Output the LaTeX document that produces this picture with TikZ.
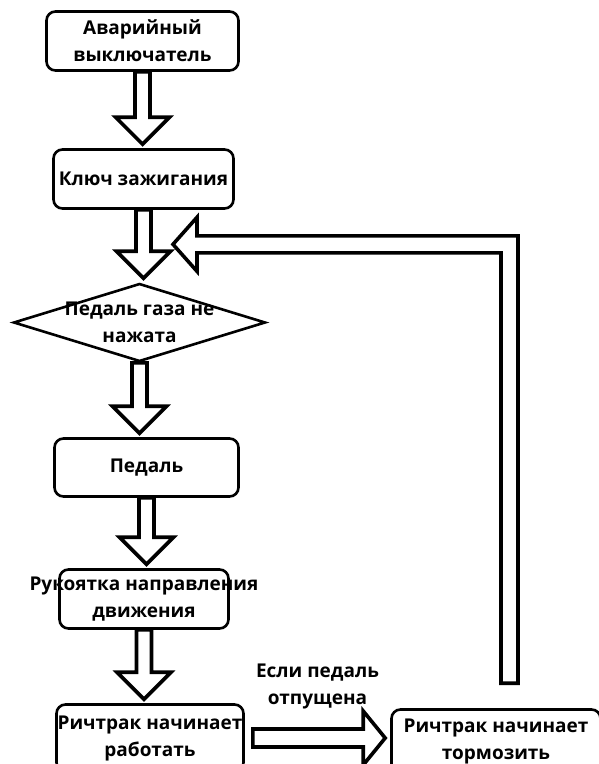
\documentclass[tikz,border=0pt]{standalone}
\usepackage{fontspec}
\setmainfont{Open Sans}
\usepackage{tikz}
\usetikzlibrary{calc}
\usetikzlibrary{shapes.geometric}

\tikzset{
  block/.style={draw, rounded corners=9pt, line width=2.6pt, inner sep=0pt},
  decision/.style={draw, diamond, line width=2.6pt, inner sep=0pt},
  txt/.style={font=\bfseries\fontsize{19}{27}\selectfont, align=center, inner sep=0pt},
  fat/.style={draw, fill=white, line width=3.6pt, line join=miter},
}

% hollow arrow pointing down from one node to the next
\newcommand{\fatdown}[2]{%
  \draw[fat] let \p1=(#1.south), \p2=(#1.south |- #2.north) in
    (\x1-7.5pt,\y1) -- (\x1-7.5pt,\y2+31pt) -- (\x1-27pt,\y2+31pt) -- (\x1,\y2+4pt)
    -- (\x1+27pt,\y2+31pt) -- (\x1+7.5pt,\y2+31pt) -- (\x1+7.5pt,\y1) -- cycle;}

\begin{document}
\begin{tikzpicture}[x=1pt,y=-1pt]
\useasboundingbox (0,0) rectangle (599,764);
\node[block, minimum width=192pt, minimum height=59pt,
  label={[txt]center:Аварийный\\выключатель}] (switch) at (142.5,41) {};
\node[block, minimum width=180pt, minimum height=59pt,
  label={[txt]center:Ключ зажигания}] (key) at (143.5,179) {};
\node[decision, minimum width=252pt, minimum height=78pt,
  label={[txt]center:Педаль газа не\\нажата}] (gas) at (139.5,322.5) {};
\node[block, minimum width=184pt, minimum height=58pt,
  label={[txt]center:Педаль}] (pedal) at (146.5,467.5) {};
\node[block, minimum width=169pt, minimum height=59pt,
  label={[txt]center:Рукоятка направления\\движения}] (handle) at (144,599) {};
\node[block, minimum width=187pt, minimum height=67pt,
  label={[txt]center:Ричтрак начинает\\работать}] (work) at (150,738) {};
\node[block, minimum width=209pt, minimum height=63pt,
  label={[txt]center:Ричтрак начинает\\тормозить}] (brake) at (496,741) {};
\coordinate (merge) at ($(key.south)+(29.5,34.5)$);
\node[txt] (cond) at ($(work.east)!0.5!(brake.west)+(0,-53)$) {Если педаль\\отпущена};

\fatdown{switch}{key}
\fatdown{key}{gas}
\fatdown{gas}{pedal}
\fatdown{pedal}{handle}
\fatdown{handle}{work}

\draw[fat] let \p1=(work.east), \p2=(brake.west) in
  (\x1+8pt,\y1+9pt) -- (\x2-27pt,\y1+9pt) -- (\x2-27pt,\y1+27pt) -- (\x2-5pt,\y1)
  -- (\x2-27pt,\y1-27pt) -- (\x2-27pt,\y1-9pt) -- (\x1+8pt,\y1-9pt) -- cycle;

\draw[fat] let \p1=(brake.north), \p2=(merge) in
  (\x1+5pt,\y1+25pt) -- (\x1+5pt,\y2-8.5pt) -- (\x2+24pt,\y2-8.5pt) -- (\x2+24pt,\y2-27pt)
  -- (\p2) -- (\x2+24pt,\y2+27pt) -- (\x2+24pt,\y2+8.5pt) -- (\x1+22pt,\y2+8.5pt)
  -- (\x1+22pt,\y1+25pt) -- cycle;
\end{tikzpicture}
\end{document}
